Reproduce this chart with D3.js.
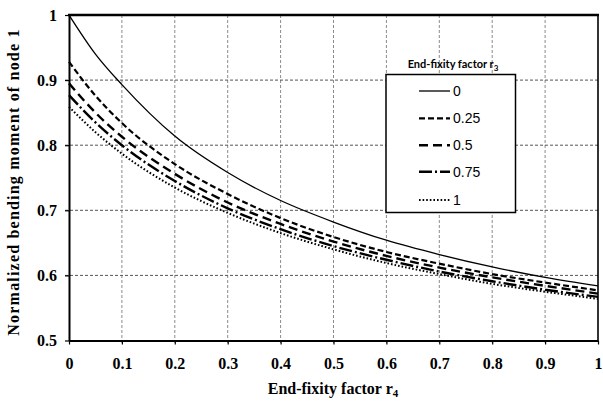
<!DOCTYPE html>
<html>
<head>
<meta charset="utf-8">
<script src="https://cdn.jsdelivr.net/npm/d3@7/dist/d3.min.js"></script>
<style>
  html, body { margin: 0; padding: 0; background: #fff; }
  svg { display: block; }
</style>
</head>
<body>
<svg id="chart" width="603" height="407"></svg>
<script>
// End-fixity factor r4 (x) and normalized bending moment of node 1 for each r3
const r4 = [0, 0.05, 0.1, 0.2, 0.3, 0.4, 0.5, 0.6, 0.7, 0.8, 0.9, 1];
const seriesLabels = ["0", "0.25", "0.5", "0.75", "1"];
const m_r3_0    = [1.000, 0.940, 0.893, 0.814, 0.758, 0.715, 0.682, 0.654, 0.632, 0.613, 0.597, 0.584];
const m_r3_025  = [0.928, 0.876, 0.834, 0.771, 0.725, 0.688, 0.659, 0.636, 0.618, 0.602, 0.589, 0.577];
const m_r3_05   = [0.895, 0.850, 0.813, 0.756, 0.712, 0.679, 0.652, 0.630, 0.612, 0.597, 0.584, 0.572];
const m_r3_075  = [0.877, 0.835, 0.800, 0.745, 0.703, 0.671, 0.645, 0.624, 0.606, 0.591, 0.578, 0.567];
const m_r3_1    = [0.859, 0.820, 0.787, 0.735, 0.696, 0.665, 0.640, 0.619, 0.602, 0.587, 0.575, 0.564];
const xTicks = [0, 0.1, 0.2, 0.3, 0.4, 0.5, 0.6, 0.7, 0.8, 0.9, 1];
const yTicks = [0.5, 0.6, 0.7, 0.8, 0.9, 1];

const seriesValues = [m_r3_0, m_r3_025, m_r3_05, m_r3_075, m_r3_1];
const lineStyles = [
  { dash: null,          width: 1.3 },
  { dash: "6,3",         width: 2.2 },
  { dash: "9,5",         width: 2.4 },
  { dash: "13,3,2,3",    width: 2.4 },
  { dash: "1.6,2",       width: 2.0 }
];

const svg = d3.select("#chart");
const plotL = 69, plotR = 598, plotT = 15, plotB = 340.5;

const x = d3.scaleLinear().domain([0, 1]).range([plotL, plotR]);
const y = d3.scaleLinear().domain([0.5, 1]).range([plotB, plotT]);

const serif = "'Liberation Serif', 'Times New Roman', serif";

// grid
const grid = svg.append("g");
grid.selectAll("line.vg").data(xTicks.slice(1, -1)).enter().append("line")
  .attr("x1", d => x(d)).attr("x2", d => x(d))
  .attr("y1", plotT).attr("y2", plotB + 4)
  .attr("stroke", "#8a8a8a").attr("stroke-width", 1)
  .attr("stroke-dasharray", "3,2");
grid.selectAll("line.hg").data(yTicks.slice(1, -1)).enter().append("line")
  .attr("x1", plotL - 4).attr("x2", plotR)
  .attr("y1", d => y(d)).attr("y2", d => y(d))
  .attr("stroke", "#555").attr("stroke-width", 1)
  .attr("stroke-dasharray", "3,2");

// axes
const xAxis = d3.axisBottom(x).tickValues(xTicks).tickSize(4).tickSizeOuter(0)
  .tickFormat(d => d3.format("")(d));
const gx = svg.append("g").attr("transform", `translate(0,${plotB})`).call(xAxis);
gx.select(".domain").attr("stroke", "#000").attr("stroke-width", 2);
gx.selectAll(".tick line").attr("stroke", "#000").attr("stroke-width", 1.2);
gx.selectAll(".tick text")
  .attr("font-family", serif).attr("font-weight", "bold").attr("font-size", 16)
  .attr("fill", "#000").attr("y", 17).attr("dy", "0.71em");

const yAxis = d3.axisLeft(y).tickValues(yTicks).tickSize(4).tickSizeOuter(0)
  .tickFormat(d => d3.format("")(d));
const gy = svg.append("g").attr("transform", `translate(${plotL},0)`).call(yAxis);
gy.select(".domain").attr("stroke", "#000").attr("stroke-width", 2);
gy.selectAll(".tick line").attr("stroke", "#000").attr("stroke-width", 1.2);
gy.selectAll(".tick text")
  .attr("font-family", serif).attr("font-weight", "bold").attr("font-size", 16)
  .attr("fill", "#000").attr("x", -12);

// top and right frame
svg.append("line").attr("x1", plotL - 1).attr("x2", plotR + 1).attr("y1", plotT).attr("y2", plotT)
  .attr("stroke", "#000").attr("stroke-width", 2.6);
svg.append("line").attr("x1", plotR).attr("x2", plotR).attr("y1", plotT).attr("y2", plotB)
  .attr("stroke", "#000").attr("stroke-width", 1.6);

// curves
const line = d3.line()
  .x((d, i) => x(r4[i]))
  .y(d => y(d))
  .curve(d3.curveMonotoneX);

svg.append("g").selectAll("path").data(seriesValues).enter().append("path")
  .attr("d", d => line(d))
  .attr("fill", "none")
  .attr("stroke", "#000")
  .attr("stroke-width", (d, i) => lineStyles[i].width)
  .attr("stroke-dasharray", (d, i) => lineStyles[i].dash);

// legend
const lg = svg.append("g");
lg.append("rect").attr("x", 386).attr("y", 74.5).attr("width", 129.5).attr("height", 138)
  .attr("fill", "#fff").attr("stroke", "#000").attr("stroke-width", 1.5);
const lt = lg.append("text").attr("x", 453).attr("y", 68).attr("text-anchor", "middle")
  .attr("font-family", "Lato, 'Open Sans', sans-serif").attr("font-weight", "bold")
  .attr("font-size", 11).attr("fill", "#000");
lt.append("tspan").text("End-fixity factor r");
lt.append("tspan").attr("font-size", 8).attr("dy", 3).text("3");

const rowY = [91, 118.3, 145.3, 171.7, 200];
seriesLabels.forEach((lab, i) => {
  lg.append("line").attr("x1", 419).attr("x2", 450)
    .attr("y1", rowY[i]).attr("y2", rowY[i])
    .attr("stroke", "#000")
    .attr("stroke-width", lineStyles[i].width)
    .attr("stroke-dasharray", lineStyles[i].dash);
  lg.append("text").attr("x", 453).attr("y", rowY[i]).attr("dy", "0.36em")
    .attr("font-family", "'Liberation Sans', Arial, sans-serif")
    .attr("font-size", 14).attr("fill", "#000").text(lab);
});

// axis titles
const xt = svg.append("text").attr("x", 333).attr("y", 394).attr("text-anchor", "middle")
  .attr("font-family", serif).attr("font-weight", "bold").attr("font-size", 16).attr("fill", "#000");
xt.append("tspan").text("End-fixity factor r");
xt.append("tspan").attr("font-size", 11).attr("dy", 3).text("4");

svg.append("text")
  .attr("transform", "translate(19,182) rotate(-90)")
  .attr("text-anchor", "middle")
  .attr("font-family", serif).attr("font-weight", "bold").attr("font-size", 16)
  .attr("letter-spacing", 1.2)
  .attr("fill", "#000")
  .text("Normalized bending moment of node 1");
</script>
</body>
</html>
